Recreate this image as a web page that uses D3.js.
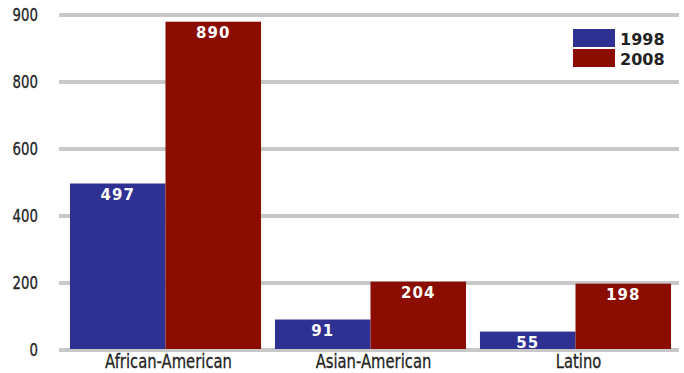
<!DOCTYPE html>
<html>
<head>
<meta charset="utf-8">
<script src="https://cdn.jsdelivr.net/npm/d3@7"></script>
<style>
    body { margin: 0; background: #fff; }
    .tick-label { font-family: "DejaVu Sans", sans-serif; font-size: 18px; fill: #222; stroke: #222; stroke-width: 0.3px; }
    .cat-label { font-family: "DejaVu Sans", sans-serif; font-size: 20px; fill: #222; stroke: #222; stroke-width: 0.3px; }
    .val-label { font-family: "DejaVu Sans", sans-serif; font-weight: bold; font-size: 15px; fill: #fff; letter-spacing: 1px; }
    .legend-label { font-family: "DejaVu Sans", sans-serif; font-weight: bold; font-size: 16px; fill: #222; }
</style>
</head>
<body>
<div id="chart"></div>
<script>
// data
const categories = ['African-American', 'Asian-American', 'Latino'];
const years = ['1998', '2008'];
const values1998 = [497, 91, 55];
const values2008 = [890, 204, 198];
const yTicks = [0, 200, 400, 600, 800, 900];
const colors = ['#2e3192', '#8b0c00'];

const width = 684, height = 373;
const squeeze = 0.74; // condensed look for axis text

const svg = d3.select('#chart').append('svg')
    .attr('width', width)
    .attr('height', height);

// axis in the original is not uniform: 800 -> 900 takes the same space as 600 -> 800
const y = d3.scaleLinear()
    .domain([0, 800, 900])
    .range([350, 82, 15]);

const x0 = d3.scaleBand()
    .domain(categories)
    .range([63, 678])
    .paddingInner(0.068)
    .paddingOuter(0.034);

const x1 = d3.scaleBand()
    .domain(years)
    .range([0, x0.bandwidth()]);

const color = d3.scaleOrdinal().domain(years).range(colors);

// grid
svg.append('g')
    .selectAll('line')
    .data(yTicks)
    .join('line')
    .attr('x1', 59)
    .attr('x2', 679)
    .attr('y1', d => y(d))
    .attr('y2', d => y(d))
    .attr('stroke', '#c8c8c8')
    .attr('stroke-width', 4);

svg.append('g')
    .selectAll('text')
    .data(yTicks)
    .join('text')
    .attr('class', 'tick-label')
    .attr('transform', d => `translate(38,${y(d) + 6}) scale(${squeeze},1)`)
    .attr('text-anchor', 'end')
    .text(d => d);

// bars
let rows = categories.map((c, i) => ({
    cat: c,
    vals: [{year: years[0], v: values1998[i]}, {year: years[1], v: values2008[i]}]
}));

let groups = svg.append('g')
    .selectAll('g')
    .data(rows)
    .join('g')
    .attr('transform', d => `translate(${x0(d.cat)},0)`);

groups.selectAll('rect')
    .data(d => d.vals)
    .join('rect')
    .attr('x', d => x1(d.year))
    .attr('width', x1.bandwidth())
    .attr('y', d => y(d.v))
    .attr('height', d => y(0) - y(d.v) - 1)
    .attr('fill', d => color(d.year));

groups.selectAll('text')
    .data(d => d.vals)
    .join('text')
    .attr('class', 'val-label')
    .attr('x', d => x1(d.year) + x1.bandwidth() / 2)
    .attr('y', d => y(d.v) + 16)
    .attr('text-anchor', 'middle')
    .text(d => d.v);

// category labels
svg.append('g')
    .selectAll('text')
    .data(categories)
    .join('text')
    .attr('class', 'cat-label')
    .attr('transform', d => `translate(${x0(d) + x0.bandwidth() / 2 + 3},368) scale(${squeeze},1)`)
    .attr('text-anchor', 'middle')
    .text(d => d);

// legend
let legend = svg.append('g')
    .selectAll('g')
    .data(years)
    .join('g')
    .attr('transform', (d, i) => `translate(573,${29 + i * 20})`);

legend.append('rect')
    .attr('width', 42)
    .attr('height', 18)
    .attr('fill', d => color(d));

legend.append('text')
    .attr('class', 'legend-label')
    .attr('x', 47)
    .attr('y', 16)
    .text(d => d);
</script>
</body>
</html>
